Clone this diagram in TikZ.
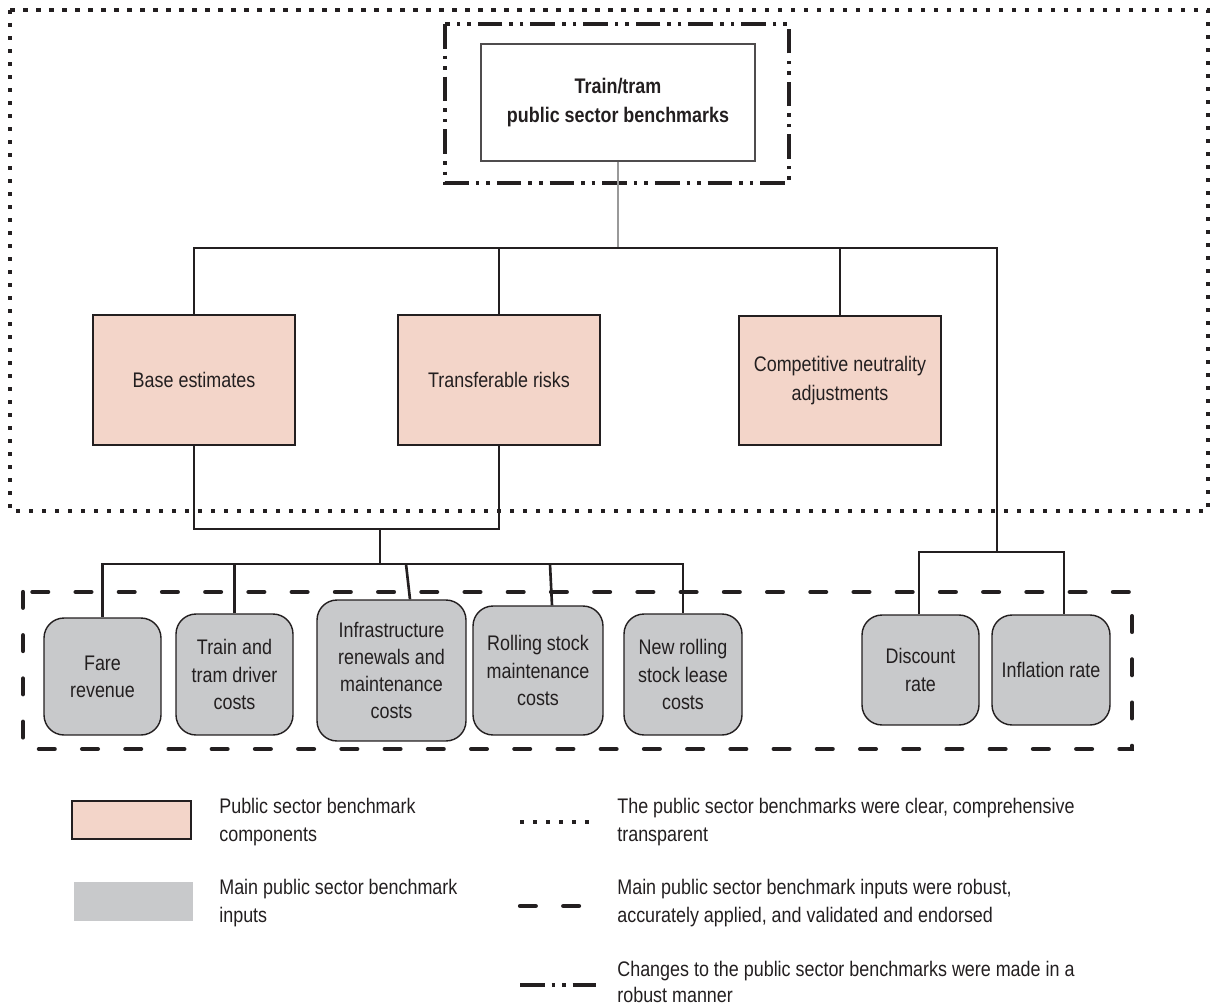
\documentclass[tikz,border=0pt]{standalone}
\usepackage{fontspec}
\setmainfont[FakeStretch=0.85]{Liberation Sans}
\usetikzlibrary{positioning}

\definecolor{pinkfill}{RGB}{243,213,201}
\definecolor{greyfill}{RGB}{200,201,203}
\definecolor{inkcol}{RGB}{35,31,32}

\tikzset{
  compbox/.style={draw=inkcol,line width=0.8pt,fill=pinkfill,align=center,
    text=inkcol,font=\fontsize{12}{16}\selectfont,inner sep=0pt},
  inputbox/.style={draw=inkcol,line width=0.8pt,fill=greyfill,rounded corners=0.4cm,
    align=center,text=inkcol,font=\fontsize{12}{15.5}\selectfont,inner sep=0pt},
  linkline/.style={line width=1.5pt,draw=inkcol},
  legtext/.style={anchor=west,align=left,text=inkcol,font=\fontsize{12}{16}\selectfont,inner sep=0pt},
  dotbox/.style={line width=2pt,draw=inkcol,dash pattern=on 2.4pt off 5pt},
  dashbox/.style={line width=2.4pt,draw=inkcol,line cap=round,dash pattern=on 9pt off 15.6pt},
  dashdotbox/.style={line width=2.2pt,draw=inkcol,dash pattern=on 14pt off 4pt on 2pt off 4pt on 2pt off 4pt}
}

\begin{document}
\begin{tikzpicture}[x=0.02cm,y=-0.02cm]

\useasboundingbox (0,0) rectangle (1210,1007);

% Draw the frames
\draw[dotbox] (10,10) rectangle (1208,511);
\draw[dashdotbox] (445,24) rectangle (789,183);
\draw[dashbox] (23,592) rectangle (1132,749);

% Draw the top box
\node[draw=inkcol!80,line width=0.9pt,fill=white,minimum width=5.48cm,minimum height=2.34cm,
  align=center,text=inkcol,font=\bfseries\fontsize{12}{16}\selectfont] (psb) at (618,102.5)
  {Train/tram\\public sector benchmarks};

% Draw the components
\node[compbox,minimum width=4.04cm,minimum height=2.6cm] (base) at (194,380) {Base estimates};
\node[compbox,minimum width=4.04cm,minimum height=2.6cm] (risk) at (499,380) {Transferable risks};
\node[compbox,minimum width=4.04cm,minimum height=2.58cm] (cna) at (840,380.5)
  {Competitive neutrality\\adjustments};

% Draw the inputs
\node[inputbox,minimum width=2.34cm,minimum height=2.34cm] (fare) at (102.5,676.5) {Fare\\revenue};
\node[inputbox,minimum width=2.34cm,minimum height=2.42cm] (driver) at (234.5,674.5) {Train and\\tram driver\\costs};
\node[inputbox,minimum width=2.98cm,minimum height=2.82cm] (infra) at (391.5,670.5) {Infrastructure\\renewals and\\maintenance\\costs};
\node[inputbox,minimum width=2.6cm,minimum height=2.58cm] (stock) at (538,670.5) {Rolling stock\\maintenance\\costs};
\node[inputbox,minimum width=2.36cm,minimum height=2.42cm] (lease) at (683,674.5) {New rolling\\stock lease\\costs};
\node[inputbox,minimum width=2.34cm,minimum height=2.2cm] (disc) at (920.5,670) {Discount\\rate};
\node[inputbox,minimum width=2.36cm,minimum height=2.2cm] (infl) at (1051,670) {Inflation rate};

% Draw the joints
\coordinate (topjoin) at (618,248);
\coordinate (rightdrop) at (997,248);
\coordinate (midjoin) at (380,529);
\coordinate (lowjoin) at (380,564);
\coordinate (ratejoin) at (997,552);

% Draw the edges
\draw[line width=1.2pt,draw=gray!80] (psb.south) -- (topjoin);
\draw[linkline] (base.north) |- (rightdrop) -- (ratejoin);
\draw[linkline] (risk.north) -- (risk.north |- topjoin);
\draw[linkline] (cna.north) -- (cna.north |- topjoin);
\draw[linkline] (base.south) |- (midjoin) -| (risk.south);
\draw[linkline] (midjoin) -- (lowjoin);
\draw[linkline] (fare.north) |- (lowjoin) -| (lease.north);
\draw[linkline] (driver.north) -- (driver.north |- lowjoin);
\draw[linkline] ([xshift=0.37cm]infra.north) -- ([xshift=0.29cm]infra.north |- lowjoin);
\draw[linkline] ([xshift=0.28cm]stock.north) -- ([xshift=0.24cm]stock.north |- lowjoin);
\draw[linkline] ([xshift=-0.03cm]disc.north) |- (ratejoin) -| ([xshift=0.26cm]infl.north);

% Draw the legend
\node[draw=inkcol,line width=0.8pt,fill=pinkfill,minimum width=2.38cm,minimum height=0.76cm,inner sep=0pt] (legcomp) at (131.5,820) {};
\node[fill=greyfill,minimum width=2.38cm,minimum height=0.78cm,inner sep=0pt] (leginput) at (133.5,901.5) {};
\node[legtext] (legcomptext) at (219,822) {Public sector benchmark\\components};
\node[legtext] (leginputtext) at (219,903) {Main public sector benchmark\\inputs};

\coordinate (dotstart) at (520,822);
\coordinate (dotend) at (596,822);
\coordinate (dashstart) at (520,906);
\coordinate (dashend) at (596,906);
\coordinate (dashdotstart) at (520,985);
\coordinate (dashdotend) at (596,985);
\draw[dotbox] (dotstart) -- (dotend);
\draw[dashbox] (dashstart) -- (dashend);
\draw[dashdotbox] (dashdotstart) -- (dashdotend);

\node[legtext] (dottext) at (617,822) {The public sector benchmarks were clear, comprehensive\\transparent};
\node[legtext] (dashtext) at (617,903) {Main public sector benchmark inputs were robust,\\accurately applied, and validated and endorsed};
\node[legtext,font=\fontsize{12}{15}\selectfont] (dashdottext) at (617,982) {Changes to the public sector benchmarks were made in a\\robust manner};

\end{tikzpicture}
\end{document}
